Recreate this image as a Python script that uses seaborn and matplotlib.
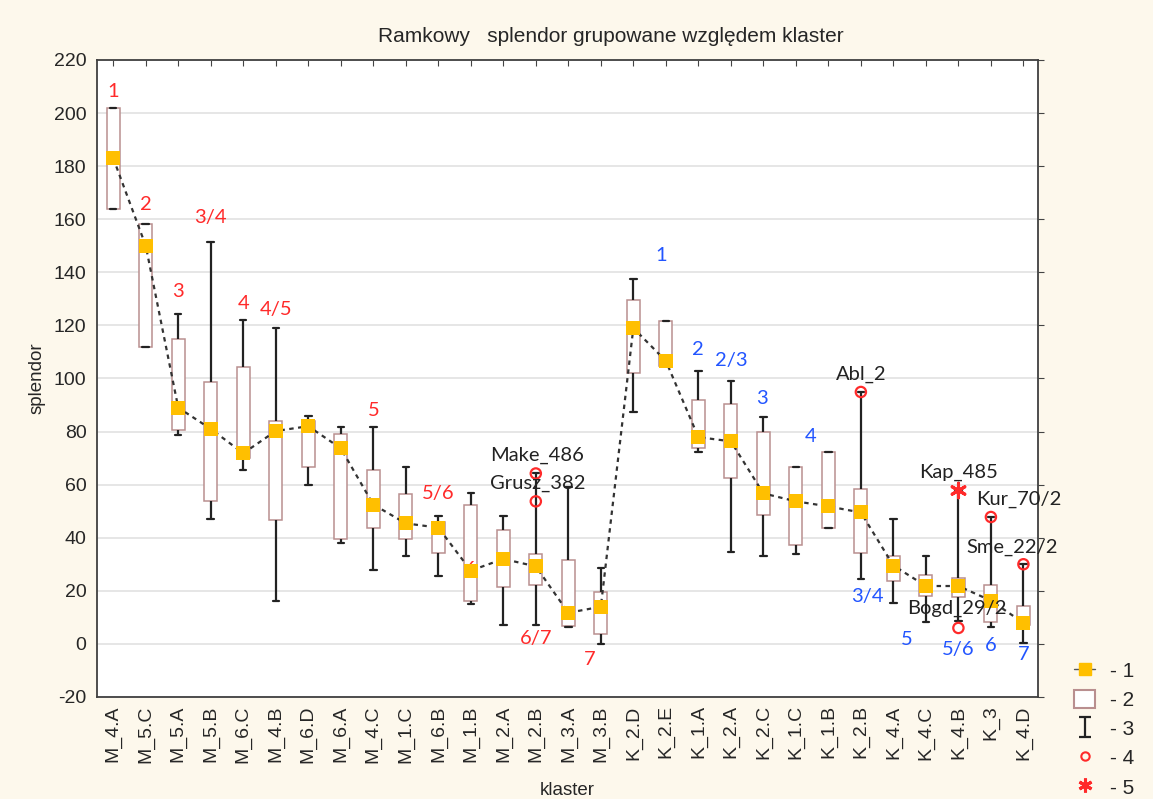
import numpy as np
import pandas as pd
import matplotlib
matplotlib.use("Agg")
import matplotlib.pyplot as plt
import seaborn as sns
from matplotlib.lines import Line2D
from matplotlib.patches import Rectangle
from matplotlib.path import Path

### valeurs (min, q1, mediane, q3, max) pour chaque klaster
klaster = ["M_4.A", "M_5.C", "M_5.A", "M_5.B", "M_6.C", "M_4.B", "M_6.D", "M_6.A",
           "M_4.C", "M_1.C", "M_6.B", "M_1.B", "M_2.A", "M_2.B", "M_3.A", "M_3.B",
           "K_2.D", "K_2.E", "K_1.A", "K_2.A", "K_2.C", "K_1.C", "K_1.B", "K_2.B",
           "K_4.A", "K_4.C", "K_4.B", "K_3", "K_4.D"]
w_min = [164, 112, 78.6, 46.9, 65.4, 16, 60, 38, 28, 33, 25.7, 15, 7.2, 7.2, 6.5, 0,
         87.3, 104.7, 72.2, 34.8, 33, 34, 43.5, 24.6, 15.5, 8.3, 8.8, 6.4, 0.4]
q1 = [164, 112, 80.5, 53.7, 70, 46.5, 66.5, 39.7, 43.5, 39.7, 34.4, 16, 21.5, 22.3, 6.8, 3.8,
      102, 104.7, 73.7, 62.4, 48.7, 37.4, 43.5, 34.4, 23.7, 18.2, 17.6, 8.3, 7]
mediana = [183, 150, 89, 81, 71.8, 80.2, 82, 73.7, 52.5, 45.4, 43.8, 27.6, 32, 29.2, 11.7, 14,
           119, 106.6, 77.9, 76.3, 56.7, 53.7, 51.8, 49.5, 29.5, 21.8, 21.8, 16.3, 7.9]
q3 = [202, 158, 115, 98.6, 104.4, 84, 84, 79, 65.4, 56.3, 46, 52.5, 43, 34, 31.7, 19.7,
      129.6, 121.7, 91.8, 90.3, 80, 66.5, 72.2, 58.2, 33, 25.8, 24.9, 22.3, 14.4]
w_max = [202, 158, 124.3, 151.5, 122, 119, 86, 81.8, 81.8, 66.5, 48, 57, 48, 64.2, 59, 28.7,
         137.6, 121.7, 102.8, 99, 85.4, 66.5, 72.2, 94.9, 47, 33, 57.8, 47.8, 30]

### valeurs atypiques (4) et extremes (5)
out_klaster = ["M_2.B", "M_2.B", "K_2.B", "K_4.B", "K_3", "K_4.D"]
out_val = [64.2, 53.7, 94.9, 6, 47.8, 30]
ext_klaster = ["K_4.B"]
ext_val = [57.8]

### etiquettes
red_txt = ["1", "2", "3", "3/4", "4", "4/5", "5", "5/6", "6", "6/7", "7"]
red_x = [0, 1, 2, 3, 4, 5, 8, 10, 11, 13, 14.65]
red_y = [208, 165.5, 132.6, 160.7, 128.4, 125.8, 88, 56.5, 27.9, 1.9, -6]
blue_txt = ["1", "2", "2/3", "3", "4", "3/4", "5", "5/6", "6", "7"]
blue_x = [16.85, 18, 19, 19.95, 21.45, 23.2, 24.4, 26, 27, 28]
blue_y = [146.5, 111, 106.7, 92.4, 78, 17.7, 1.5, -2.3, -0.7, -4]
name_txt = ["Make_486", "Grusz_382", "Abl_2", "Kap_485", "Kur_70/2", "Sme_22/2", "Bogd_29/2"]
name_x = [13.05, 13.05, 23.0, 26.0, 27.85, 27.65, 25.95]
name_y = [71.2, 60.3, 101.7, 64.8, 54.6, 36.5, 13.2]

rows = []
for k, a, b, c, d, e in zip(klaster, w_min, q1, mediana, q3, w_max):
    for v in (a, b, c, d, e):
        rows.append({"klaster": k, "splendor": v})
df = pd.DataFrame(rows)

sns.set_style("white")
plt.rcParams["font.family"] = ["Liberation Sans", "DejaVu Sans"]
plt.rcParams["axes.unicode_minus"] = False

cream = "#fdf8ec"
box_edge = "#b98f8f"
yellow = "#ffbf00"
red = "#ff2a2a"
blue = "#2255ff"

fig = plt.figure(figsize=(11.53, 7.99), dpi=100, facecolor=cream)
ax = fig.add_axes([0.0841, 0.1277, 0.8162, 0.7973])
ax.set_facecolor("white")

sns.boxplot(data=df, x="klaster", y="splendor", order=klaster, whis=(0, 100),
            showfliers=False, width=0.4, linewidth=1.1, ax=ax,
            boxprops={"facecolor": "white", "edgecolor": box_edge},
            whiskerprops={"color": "#222222", "linewidth": 1.6},
            capprops={"color": "#222222", "linewidth": 1.6},
            medianprops={"linewidth": 0})

idx = np.arange(len(klaster))
sns.lineplot(x=idx, y=mediana, ax=ax, color="#333333", linewidth=1.6,
             linestyle=(0, (2.0, 2.0)), zorder=4)
sns.scatterplot(x=idx, y=mediana, ax=ax, marker="s", color=yellow, s=115,
                edgecolor=yellow, linewidth=0, zorder=5)

pos = {k: i for i, k in enumerate(klaster)}
sns.scatterplot(x=[pos[k] for k in out_klaster], y=out_val, ax=ax, marker="o",
                facecolor="none", edgecolor=red, s=55, linewidth=1.6, zorder=6)
sns.scatterplot(x=[pos[k] for k in ext_klaster], y=ext_val, ax=ax, marker=(6, 2, 0),
                color=red, edgecolor=red, s=110, linewidth=2.2, zorder=6)

lab_font = ["Lato", "DejaVu Sans"]
for t, x, y in zip(red_txt, red_x, red_y):
    ax.text(x, y, t, color=red, fontsize=14.5, ha="center", va="center", family=lab_font)
for t, x, y in zip(blue_txt, blue_x, blue_y):
    ax.text(x, y, t, color=blue, fontsize=14.5, ha="center", va="center", family=lab_font)
for t, x, y in zip(name_txt, name_x, name_y):
    ax.text(x, y, t, color="#222222", fontsize=14.5, ha="center", va="center",
            family=lab_font, zorder=7)

ax.set_xlim(-0.5, 28.45)
ax.set_ylim(-20, 220)
ax.set_yticks(np.arange(-20, 221, 20))
ax.yaxis.grid(True, color="#e6e6e6", linewidth=1.4)
ax.set_axisbelow(True)
ax.set_xticks(idx)
ax.set_xticklabels(klaster, rotation=90, fontsize=14)
ax.tick_params(axis="y", labelsize=14, direction="out", length=4, right=True,
               color="#444444")
ax.tick_params(axis="x", direction="in", length=4, top=True, color="#444444", pad=6)
for s in ax.spines.values():
    s.set_color("#404040")
    s.set_linewidth(1.3)

ax.set_xlabel("klaster", fontsize=13.5, labelpad=14)
ax.set_ylabel("splendor", fontsize=13.5, labelpad=6)
fig.text(611 / 1153, 1 - 37 / 799, "Ramkowy   splendor grupowane względem klaster",
         ha="center", va="center", fontsize=15)

whisk = Path([(0, -1), (0, 1), (-0.6, 1), (0.6, 1), (-0.6, -1), (0.6, -1)],
             [Path.MOVETO, Path.LINETO, Path.MOVETO, Path.LINETO, Path.MOVETO, Path.LINETO])
handles = [
    Line2D([], [], color="#555555", linewidth=1, marker="s", markersize=9,
           markerfacecolor=yellow, markeredgecolor=yellow),
    Rectangle((0, 0), 1, 1, facecolor="white", edgecolor=box_edge, linewidth=1.5),
    Line2D([], [], linestyle="none", marker=whisk, markersize=14, color="#222222",
           markeredgewidth=1.6),
    Line2D([], [], linestyle="none", marker="o", markersize=6, markerfacecolor="none",
           markeredgecolor=red, markeredgewidth=1.5),
    Line2D([], [], linestyle="none", marker=(6, 2, 0), markersize=10, color=red,
           markeredgewidth=2.2),
]
fig.legend(handles, ["- 1", "- 2", "- 3", "- 4", "- 5"], loc="upper left",
           bbox_to_anchor=(1064 / 1153, 1 - 650 / 799), frameon=False, fontsize=15,
           handlelength=1.0, handleheight=1.0, handletextpad=0.7, labelspacing=0.42,
           borderpad=0)

fig.savefig("out.png", dpi=100, facecolor=cream)
